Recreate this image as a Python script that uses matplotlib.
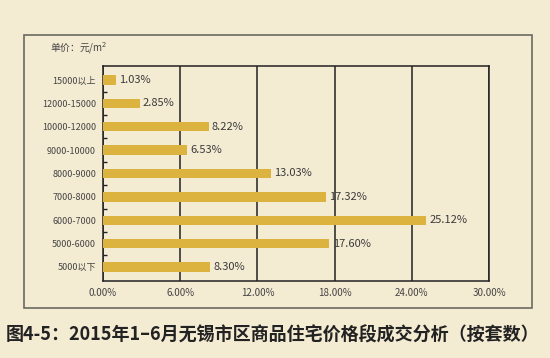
import matplotlib
matplotlib.use("Agg")
import matplotlib.pyplot as plt
from matplotlib.patches import Rectangle

plt.rcParams['font.family'] = ['Noto Sans CJK SC', 'DejaVu Sans']

# price bands, top to bottom as in the chart
categories = ["15000以上", "12000-15000", "10000-12000", "9000-10000", "8000-9000",
              "7000-8000", "6000-7000", "5000-6000", "5000以下"]
shares = [1.03, 2.85, 8.22, 6.53, 13.03, 17.32, 25.12, 17.60, 8.30]
xticks = [0, 6, 12, 18, 24, 30]

bg = "#f4ebd3"
bar_color = "#dcb33e"

fig = plt.figure(figsize=(5.5, 3.58), dpi=100)
fig.patch.set_facecolor(bg)

# outer frame around the chart
fig.patches.append(Rectangle((24 / 550, 1 - 308 / 358), 508 / 550, 273 / 358,
                             transform=fig.transFigure, fill=False,
                             edgecolor="#6a6a60", linewidth=1.2))

ax = fig.add_axes([103 / 550, 1 - 281 / 358, 386 / 550, 215 / 358])
ax.set_facecolor(bg)

y = list(range(len(categories)))[::-1]
ax.barh(y, shares, height=0.4, color=bar_color, zorder=3)
for yi, v in zip(y, shares):
    ax.text(v + 0.25, yi, f"{v:.2f}%", va="center", ha="left", fontsize=8,
            color="#3a3a3a", zorder=4)

ax.set_xlim(0, 30)
ax.set_ylim(-0.6, len(categories) - 0.4)
ax.set_xticks(xticks)
ax.set_xticklabels([f"{t:.2f}%" for t in xticks], fontsize=7, color="#444444")
ax.set_yticks(y)
ax.set_yticklabels(categories, fontsize=6.5, color="#444444")
ax.tick_params(axis="both", length=0, pad=5)
ax.set_yticks([i + 0.5 for i in range(len(categories) - 1)], minor=True)
ax.tick_params(axis="y", which="minor", direction="in", length=3, width=1, color="#222222")
ax.grid(axis="x", color="#222222", linewidth=1.1, zorder=1)
for s in ax.spines.values():
    s.set_color("#222222")
    s.set_linewidth(1.1)

fig.text(50 / 550, 1 - 48 / 358, "单价：元/m$^2$", fontsize=7, color="#444444",
         ha="left", va="center")
fig.text(6 / 550, 1 - 335 / 358, "图4-5：2015年1–6月无锡市区商品住宅价格段成交分析（按套数）",
         fontsize=13, fontweight="bold", color="#222222", ha="left", va="center")

fig.savefig("out.png", dpi=100, facecolor=bg)
